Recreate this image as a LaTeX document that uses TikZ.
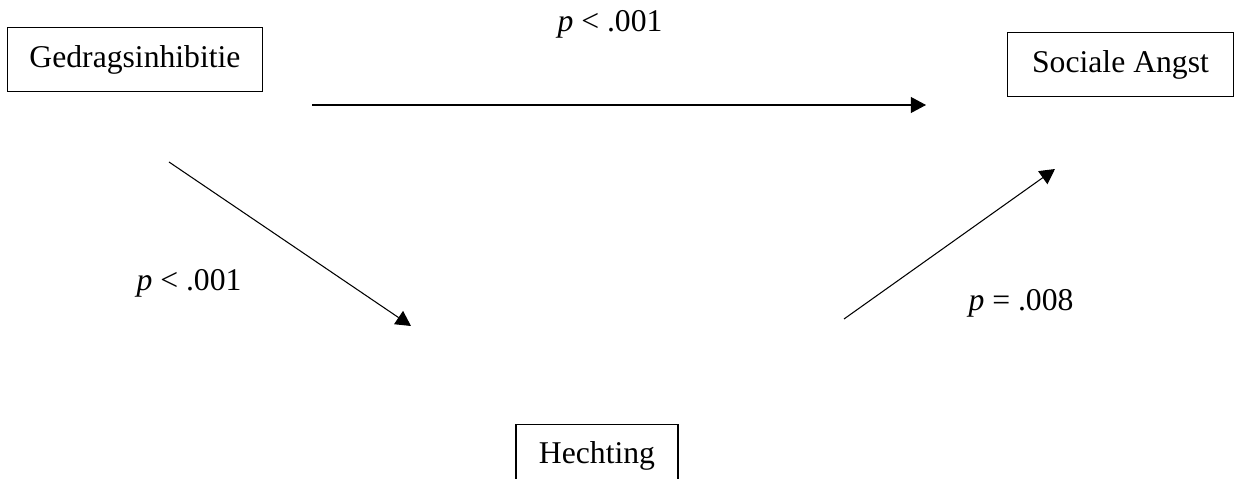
\documentclass[tikz,border=0pt]{standalone}
\usepackage{fontspec}
\setmainfont{Liberation Serif}
\usetikzlibrary{arrows.meta}

\begin{document}
\begin{tikzpicture}[
  x=0.379pt, y=-0.379pt,
  >={Triangle[length=5.7pt,width=6pt]},
  construct/.style={draw,line width=0.4pt,minimum height=24pt,inner sep=0pt,font=\fontsize{12}{14}\selectfont},
  plabel/.style={inner sep=0pt,font=\fontsize{12}{14}\selectfont}
]
  \useasboundingbox (0,0) rectangle (1234,479);

  \node[construct,minimum width=96.3pt] (inhib) at (135,59.5) {Gedragsinhibitie};
  \node[construct,minimum width=86pt] (angst) at (1120.5,64.5) {Sociale Angst};
  \node[construct,minimum width=61.4pt] (hecht) at (597,456) {Hechting};

  % loose arrow ends
  \coordinate (c-start) at (312,105);
  \coordinate (c-end) at (926,105);
  \coordinate (a-start) at (169,162);
  \coordinate (a-end) at (411,326);
  \coordinate (b-start) at (844,319);
  \coordinate (b-end) at (1055,169);

  \draw[->,line width=0.4pt] (c-start) -- (c-end);
  \draw[->,line width=0.4pt] (a-start) -- (a-end);
  \draw[->,line width=0.4pt] (b-start) -- (b-end);

  \node[plabel] (p-c) at (610,24) {\textit{p} < .001};
  \node[plabel] (p-a) at (189,283) {\textit{p} < .001};
  \node[plabel] (p-b) at (1021,303) {\textit{p} = .008};
\end{tikzpicture}
\end{document}
